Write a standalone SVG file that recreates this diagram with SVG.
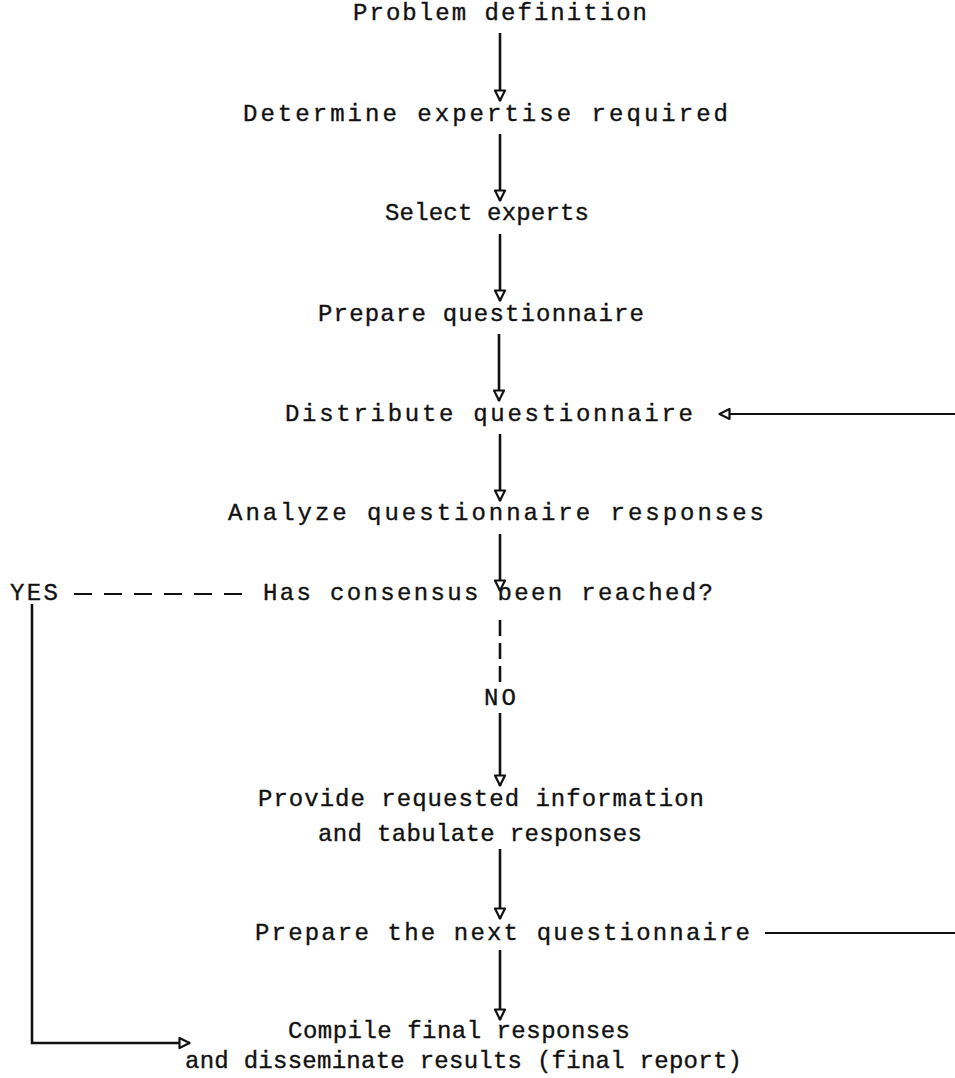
<svg xmlns="http://www.w3.org/2000/svg" width="955" height="1078" viewBox="0 0 955 1078">
<style>
text{font-family:"Liberation Mono","DejaVu Sans Mono",monospace;font-size:24px;fill:#111;stroke:#111;stroke-width:0.35}
.ln{stroke:#111;stroke-width:2.6;fill:none}
.hl{stroke:#111;stroke-width:2.2;fill:none}
.dash{stroke:#111;stroke-width:2.2;fill:none;stroke-dasharray:18 12}
.vdash{stroke:#111;stroke-width:2.6;fill:none;stroke-dasharray:16 7}
</style>
<defs>
<marker id="ah" viewBox="0 0 13 13" refX="12" refY="6.5" markerWidth="13" markerHeight="13" markerUnits="userSpaceOnUse" orient="auto">
<path d="M1.5,1.5 L11.5,6.5 L1.5,11.5 Z" fill="#fff" stroke="#111" stroke-width="2.2" stroke-linejoin="round"/>
</marker>
</defs>
<rect width="955" height="1078" fill="#fff"/>
<g id="n1"><text x="353" y="20" textLength="294" lengthAdjust="spacing">Problem definition</text></g>
<g id="n2"><text x="243" y="121" textLength="485" lengthAdjust="spacing">Determine expertise required</text></g>
<g id="n3"><text x="385" y="220" textLength="204" lengthAdjust="spacing">Select experts</text></g>
<g id="n4"><text x="318" y="321" textLength="326" lengthAdjust="spacing">Prepare questionnaire</text></g>
<g id="n5"><text x="285" y="421" textLength="408" lengthAdjust="spacing">Distribute questionnaire</text></g>
<g id="n6"><text x="228" y="520" textLength="536" lengthAdjust="spacing">Analyze questionnaire responses</text></g>
<g id="n7"><text x="263" y="600" textLength="450" lengthAdjust="spacing">Has consensus been reached?</text></g>
<g id="yes"><text x="10" y="600" textLength="48" lengthAdjust="spacing">YES</text></g>
<g id="no"><text x="484" y="705" textLength="32" lengthAdjust="spacing">NO</text></g>
<g id="n8"><text x="258" y="806" textLength="446" lengthAdjust="spacing">Provide requested information</text><text x="318" y="841" textLength="324" lengthAdjust="spacing">and tabulate responses</text></g>
<g id="n9"><text x="255" y="940" textLength="495" lengthAdjust="spacing">Prepare the next questionnaire</text></g>
<g id="n10"><text x="288" y="1038" textLength="342" lengthAdjust="spacing">Compile final responses</text><text x="185" y="1068" textLength="557" lengthAdjust="spacing">and disseminate results (final report)</text></g>
<g id="connectors">
<line class="ln" x1="500" y1="33" x2="500" y2="101" marker-end="url(#ah)"/>
<line class="ln" x1="500" y1="134" x2="500" y2="201" marker-end="url(#ah)"/>
<line class="ln" x1="500" y1="234" x2="500" y2="301" marker-end="url(#ah)"/>
<line class="ln" x1="499" y1="334" x2="499" y2="401" marker-end="url(#ah)"/>
<line class="ln" x1="500" y1="434" x2="500" y2="501" marker-end="url(#ah)"/>
<line class="ln" x1="500" y1="534" x2="500" y2="591" marker-end="url(#ah)"/>
<line class="vdash" x1="500" y1="620" x2="500" y2="686"/>
<line class="ln" x1="500" y1="713" x2="500" y2="786" marker-end="url(#ah)"/>
<line class="ln" x1="500" y1="849" x2="500" y2="919" marker-end="url(#ah)"/>
<line class="ln" x1="500" y1="950" x2="500" y2="1020" marker-end="url(#ah)"/>
<line class="hl" x1="955" y1="414" x2="719" y2="414" marker-end="url(#ah)"/>
<line class="hl" x1="765" y1="933" x2="955" y2="933"/>
<line class="dash" x1="74" y1="594" x2="252" y2="594"/>
<polyline class="ln" points="32,604 32,1043 190,1043" marker-end="url(#ah)"/>
</g>
</svg>
